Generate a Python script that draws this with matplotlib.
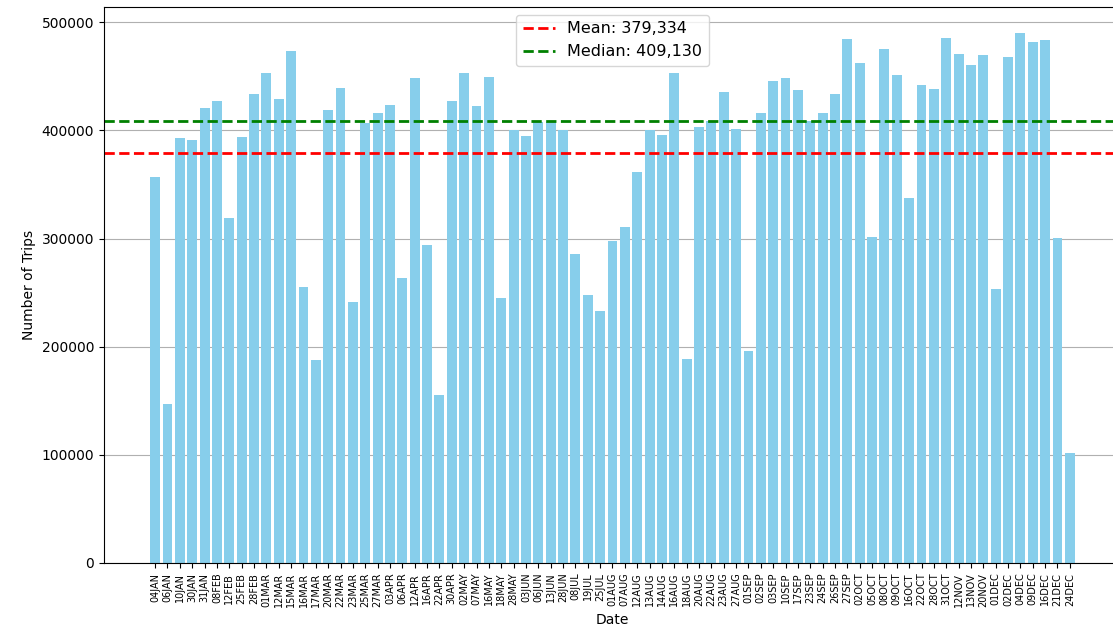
import matplotlib
matplotlib.use("Agg")
import matplotlib.pyplot as plt
import numpy as np

dates = ["04JAN", "06JAN", "10JAN", "30JAN", "31JAN", "08FEB", "12FEB", "25FEB", "28FEB",
         "01MAR", "12MAR", "15MAR", "16MAR", "17MAR", "20MAR", "22MAR", "23MAR", "25MAR", "27MAR",
         "03APR", "06APR", "12APR", "16APR", "22APR", "30APR",
         "02MAY", "07MAY", "16MAY", "18MAY", "28MAY",
         "03JUN", "06JUN", "13JUN", "28JUN",
         "08JUL", "19JUL", "25JUL",
         "01AUG", "07AUG", "12AUG", "13AUG", "14AUG", "16AUG", "18AUG", "20AUG", "22AUG", "23AUG", "27AUG",
         "01SEP", "02SEP", "03SEP", "10SEP", "17SEP", "23SEP", "24SEP", "26SEP", "27SEP",
         "02OCT", "05OCT", "08OCT", "09OCT", "16OCT", "22OCT", "28OCT", "31OCT",
         "12NOV", "13NOV", "20NOV",
         "01DEC", "02DEC", "04DEC", "09DEC", "16DEC", "21DEC", "24DEC"]

trips = [357200, 146700, 393200, 391000, 420600, 427400, 319000, 394100, 433300,
         452700, 429300, 473700, 255500, 187400, 418800, 439700, 241300, 407100, 416300,
         424000, 263800, 448400, 294300, 155300, 427400,
         452700, 422800, 449300, 244700, 400000,
         394500, 407700, 407700, 400000,
         286000, 247800, 233000,
         297700, 310600, 361500, 400000, 395400, 452700, 188600, 403100, 408900, 435700, 401800,
         196000, 416300, 445300, 448400, 437000, 408900, 416300, 433300, 484700,
         462600, 301700, 474900, 451500, 337100, 441900, 438800, 485700,
         470900, 460100, 469600,
         253000, 468400, 489700, 481400, 483500, 300500, 101700]

mean_val = 379334
median_val = 409130

fig, ax = plt.subplots(figsize=(11.13, 6.36), dpi=100)
fig.subplots_adjust(left=0.0934, right=1.0072, top=0.989, bottom=0.1148)

x = np.arange(len(dates))
ax.bar(x, trips, color="skyblue")
ax.axhline(mean_val, color="red", linestyle="--", linewidth=2, label=f"Mean: {mean_val:,}")
ax.axhline(median_val, color="green", linestyle="--", linewidth=2, label=f"Median: {median_val:,}")

ax.set_xticks(x)
ax.set_xticklabels(dates, rotation=90, fontsize=7)
ax.set_xlabel("Date")
ax.set_ylabel("Number of Trips")
ax.yaxis.grid(True, color="#b0b0b0", linewidth=0.8)
ax.set_axisbelow(True)
ax.legend(loc="upper center", fontsize=11.5)

fig.savefig("out.png", dpi=100)
